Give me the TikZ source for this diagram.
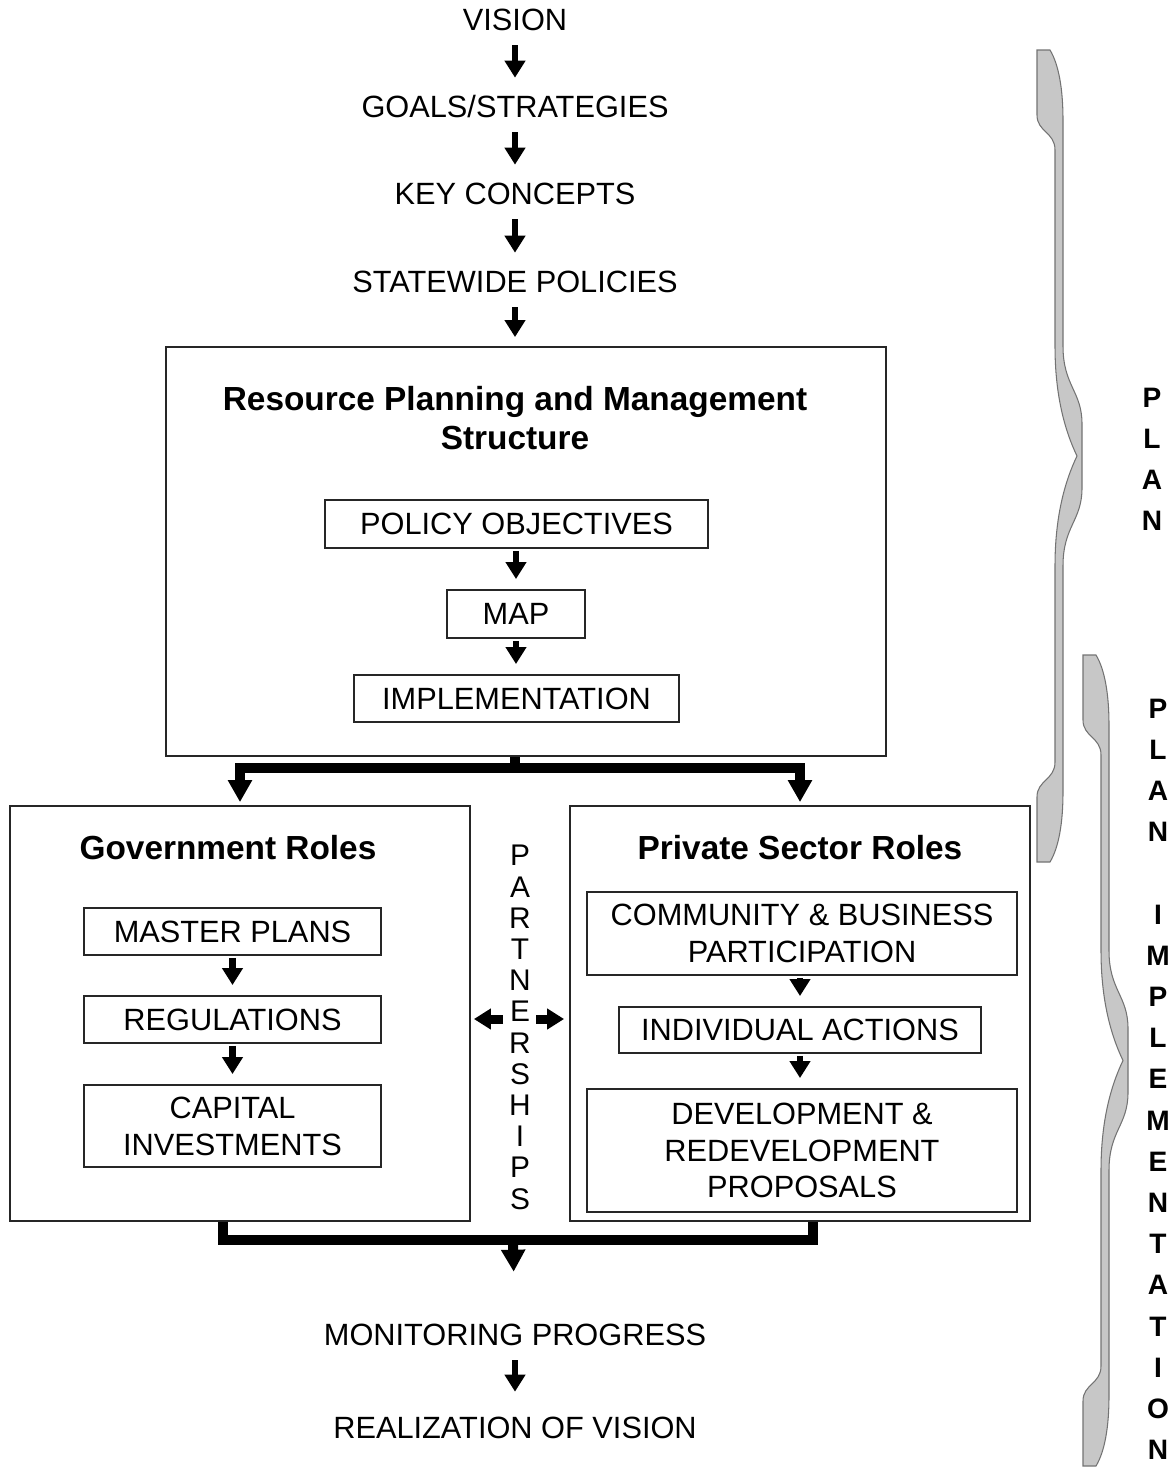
\documentclass[tikz,border=0pt]{standalone}
\usepackage{fontspec}
\setmainfont{Liberation Sans}
\usetikzlibrary{arrows.meta}

% grey curly brace: left x, top y, bottom y
\newcommand{\sidebrace}[3]{%
  \pgfmathsetmacro{\bmid}{(#2+#3)/2}
  \filldraw[brace] (#1,#2) -- (#1+13,#2)
    .. controls (#1+22,#2+15) and (#1+26,#2+40) .. (#1+26,#2+70)
    -- (#1+26,\bmid-110)
    .. controls (#1+26,\bmid-70) and (#1+45,\bmid-65) .. (#1+45,\bmid-32)
    -- (#1+45,\bmid+32)
    .. controls (#1+45,\bmid+65) and (#1+26,\bmid+70) .. (#1+26,\bmid+110)
    -- (#1+26,#3-70)
    .. controls (#1+26,#3-40) and (#1+22,#3-15) .. (#1+13,#3)
    -- (#1,#3) -- (#1,#3-65)
    .. controls (#1,#3-82) and (#1+18,#3-82) .. (#1+18,#3-100)
    -- (#1+18,\bmid+110)
    .. controls (#1+18,\bmid+60) and (#1+28,\bmid+25) .. (#1+40,\bmid)
    .. controls (#1+28,\bmid-25) and (#1+18,\bmid-60) .. (#1+18,\bmid-110)
    -- (#1+18,#2+100)
    .. controls (#1+18,#2+82) and (#1,#2+82) .. (#1,#2+65) -- cycle;}

\begin{document}
\begin{tikzpicture}[x=0.02cm, y=-0.02cm,
  every node/.style={font=\fontsize{17.5}{21}\selectfont},
  lbl/.style={inner sep=0pt, text height=12.5pt, text depth=0pt},
  box/.style={draw=black!85, line width=1.1pt, inner sep=0pt, align=center},
  head/.style={font=\fontsize{19}{22.7}\selectfont\bfseries, inner sep=0pt, align=center},
  side/.style={font=\fontsize{16}{19}\selectfont\bfseries, inner sep=0pt, text height=11.5pt, text depth=0pt},
  sarrow/.style={line width=0.13cm, -{Triangle[width=0.4cm,length=0.34cm]}},
  textgap/.style={shorten <=0.28cm, shorten >=0.36cm},
  boxgap/.style={shorten <=0.04cm, shorten >=0.2cm},
  bigline/.style={line width=0.2cm},
  bigarrow/.style={bigline, -{Triangle[width=0.46cm,length=0.44cm]}},
  sidearrow/.style={line width=0.18cm, -{Triangle[width=0.4cm,length=0.34cm]}},
  brace/.style={fill=black!22, draw=black!55, line width=0.6pt}]
\useasboundingbox (0,0) rectangle (1173,1468);

% top chain
\node[lbl] (vision) at (515,20) {VISION};
\node[lbl] (goals) at (515,107) {GOALS/STRATEGIES};
\node[lbl] (concepts) at (515,194) {KEY CONCEPTS};
\node[lbl] (policies) at (515,282) {STATEWIDE POLICIES};
\draw[sarrow, textgap] (vision) -- (goals);
\draw[sarrow, textgap] (goals) -- (concepts);
\draw[sarrow, textgap] (concepts) -- (policies);

% resource planning block
\node[box, minimum width=14.4cm, minimum height=8.18cm] (rpm) at (526,551.5) {};
\node[head] (rpmtitle) at (515,418) {Resource Planning and Management\\Structure};
\node[box, lbl, minimum width=7.66cm, minimum height=0.96cm] (objectives) at (516.5,524) {POLICY OBJECTIVES};
\node[box, lbl, minimum width=2.76cm, minimum height=0.96cm] (map) at (516,614) {MAP};
\node[box, lbl, minimum width=6.5cm, minimum height=0.94cm] (implement) at (516.5,698.5) {IMPLEMENTATION};
\draw[sarrow, shorten <=0.28cm, shorten >=0.18cm] (policies.south) -- (policies |- rpm.north);
\draw[sarrow, boxgap] (objectives.south -| map) -- (map.north);
\draw[sarrow, boxgap] (map.south) -- (map |- implement.north);

% government roles
\node[box, minimum width=9.2cm, minimum height=8.3cm] (gov) at (240,1013.5) {};
\node[head] (govtitle) at (228,848) {Government Roles};
\node[box, lbl, minimum width=5.94cm, minimum height=0.94cm] (masterplans) at (232.5,931.5) {MASTER PLANS};
\node[box, lbl, minimum width=5.94cm, minimum height=0.94cm] (regulations) at (232.5,1019.5) {REGULATIONS};
\node[box, minimum width=5.94cm, minimum height=1.64cm] (capital) at (232.5,1126) {CAPITAL\\INVESTMENTS};
\draw[sarrow, boxgap] (masterplans) -- (regulations);
\draw[sarrow, boxgap] (regulations) -- (capital);

% private sector roles
\node[box, minimum width=9.2cm, minimum height=8.3cm] (priv) at (800,1013.5) {};
\node[head] (privtitle) at (800,848) {Private Sector Roles};
\node[box, minimum width=8.6cm, minimum height=1.66cm] (community) at (802,933.5) {COMMUNITY \& BUSINESS\\PARTICIPATION};
\node[box, lbl, minimum width=7.24cm, minimum height=0.92cm] (individual) at (800,1030) {INDIVIDUAL ACTIONS};
\node[box, minimum width=8.6cm, minimum height=2.46cm] (development) at (802,1150.5) {DEVELOPMENT \&\\REDEVELOPMENT\\PROPOSALS};
\draw[sarrow, boxgap] (community.south -| individual) -- (individual.north);
\draw[sarrow, boxgap] (individual.south) -- (individual |- development.north);

% partnerships column
\foreach \c [count=\i from 0] in {P,A,R,T,N,E,R,S,H,I,P,S}{
\node[lbl, font=\fontsize{17}{20}\selectfont] (ps\i) at (520,855+31.2*\i) {\c};
}
\coordinate (pleft) at (503,1019);
\coordinate (pright) at (536,1019);
\draw[sidearrow, shorten >=0.06cm] (pleft) -- (gov.east |- pleft);
\draw[sidearrow, shorten >=0.1cm] (pright) -- (priv.west |- pright);

% split into the two role boxes
\coordinate (split) at (515,768);
\draw[bigline] (rpm.south -| split) -- (split);
\draw[bigarrow, shorten >=0.06cm] (split) -| (gov.north);
\draw[bigarrow, shorten >=0.06cm] (split) -| (priv.north);

% join back together
\coordinate (join) at (513,1240);
\draw[bigline] ([xshift=-0.34cm]gov.south) |- (join) -| ([xshift=0.26cm]priv.south);

% bottom chain
\node[lbl] (monitor) at (515,1335) {MONITORING PROGRESS};
\node[lbl] (realize) at (515,1427) {REALIZATION OF VISION};
\draw[bigarrow, shorten >=1.04cm] (join) -- (monitor);
\draw[sarrow, shorten <=0.28cm, shorten >=0.48cm] (monitor) -- (realize);

% braces and side labels
\sidebrace{1037}{50}{862}
\sidebrace{1083}{655}{1466}
\foreach \c [count=\i from 0] in {P,L,A,N}{
\node[side] (plan\i) at (1152,397+41*\i) {\c};
}
\foreach \c [count=\i from 0] in {P,L,A,N,,I,M,P,L,E,M,E,N,T,A,T,I,O,N}{
\node[side] (impl\i) at (1158,708+41.2*\i) {\c};
}
\end{tikzpicture}
\end{document}
